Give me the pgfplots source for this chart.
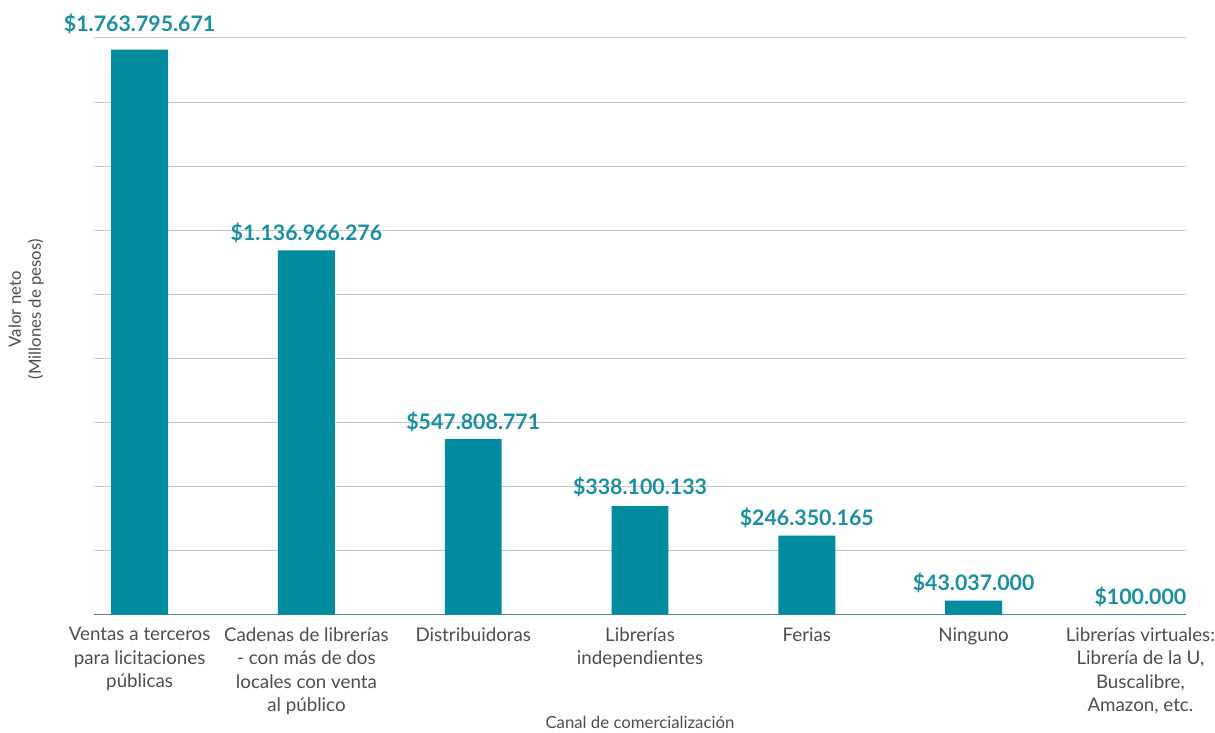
\documentclass[border=0pt]{standalone}
\usepackage{fontspec}
\setmainfont{Lato}
\usepackage{pgfplots}
\pgfplotsset{compat=1.18}
\definecolor{barteal}{RGB}{0,139,158}
\definecolor{valteal}{RGB}{26,143,160}
\definecolor{labgray}{RGB}{77,77,77}
\definecolor{gridgray}{RGB}{200,200,200}
\definecolor{baseaxis}{RGB}{90,130,155}
\begin{document}
\begin{tikzpicture}
\begin{axis}[
  scale only axis,
  width=547.5pt, height=306pt,
  xmin=-0.275, xmax=6.274,
  ymin=0, ymax=1.906e9,
  axis x line*=bottom,
  axis y line*=left,
  x axis line style={-, baseaxis, line width=0.8pt},
  y axis line style={draw=none},
  ymajorgrids,
  grid style={gridgray, line width=0.5pt},
  scaled y ticks=false,
  ytick={200000000,400000000,600000000,800000000,1000000000,1200000000,1400000000,1600000000,1800000000},
  yticklabels={},
  major tick length=0pt,
  xtick={0,1,2,3,4,5,6},
  xticklabels={
    {Ventas a terceros\\para licitaciones\\públicas},
    {Cadenas de librerías\\- con más de dos\\locales con venta\\al público},
    {Distribuidoras},
    {Librerías\\independientes},
    {Ferias},
    {Ninguno},
    {Librerías virtuales:\\Librería de la U,\\Buscalibre,\\Amazon, etc.}},
  xticklabel style={align=center, inner xsep=0pt, font=\fontsize{9.4}{11.7}\selectfont, text=labgray, yshift=-3pt},
  xlabel={Canal de comercialización},
  xlabel style={at={(axis description cs:0.5,-0.176)}, anchor=center, inner sep=0pt, font=\fontsize{8.4}{10}\selectfont, text=labgray},
  ylabel={Valor neto\\(Millones de pesos)},
  ylabel style={at={(axis description cs:-0.062,0.5)}, anchor=center, rotate=0, inner sep=0pt, align=center, font=\fontsize{8.4}{10}\selectfont, text=labgray},
  clip=false,
]
\addplot[ybar, bar width=0.341, fill=barteal, draw=none,
  nodes near coords, point meta=explicit symbolic,
  every node near coord/.append style={font=\bfseries\fontsize{10.7}{12}\selectfont, text=valteal, yshift=0.3pt}]
  coordinates {
  (0,1763795671) [\raisebox{5pt}{\$1.763.795.671}]
  (1,1136966276) [\$1.136.966.276]
  (2,547808771) [\$547.808.771]
  (3,338100133) [\raisebox{2pt}{\$338.100.133}]
  (4,246350165) [\raisebox{1pt}{\$246.350.165}]
  (5,43037000) [\raisebox{1.5pt}{\$43.037.000}]
  (6,100000) [\$100.000]
  };
\end{axis}
\path (current axis.south west) +(-47pt,-59pt);
\path (current axis.north east) +(13pt,2pt);
\end{tikzpicture}
\end{document}
